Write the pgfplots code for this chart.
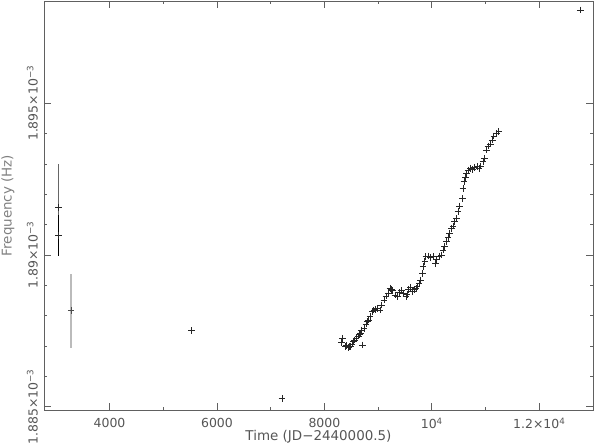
\documentclass[border=0pt]{standalone}
\usepackage{fontspec}
\setmainfont{DejaVu Sans}
\usepackage{pgfplots}
\pgfplotsset{compat=1.18}

\definecolor{axisgray}{HTML}{606060}
\definecolor{textgray}{HTML}{555555}
\definecolor{labelgray}{HTML}{808080}
\definecolor{barlight}{HTML}{BBBBBB}

% early measurements: time, frequency (Hz), error
\pgfplotstableread{
x y e
3049 1.891572e-3 1.417e-6
}\earlyA
\pgfplotstableread{
x y e
3049 1.890636e-3 0.675e-6
}\earlyB
\pgfplotstableread{
x y e
3284 1.888165e-3 1.219e-6
}\earlyC

\pgfplotstableread{
x y
5523 1.887506e-3
7211 1.885265e-3
8342 1.887254e-3
8323 1.887112e-3
8385 1.886980e-3
8410 1.887010e-3
8447 1.886947e-3
8470 1.886990e-3
8490 1.886980e-3
8515 1.887060e-3
8540 1.887145e-3
8565 1.887200e-3
8589 1.887254e-3
8633 1.887331e-3
8655 1.887370e-3
8676 1.887419e-3
8707 1.887035e-3
8694 1.887529e-3
8738 1.887584e-3
8775 1.887726e-3
8800 1.887800e-3
8818 1.887858e-3
8849 1.887968e-3
8898 1.888133e-3
8920 1.888180e-3
8942 1.888210e-3
8985 1.888243e-3
9034 1.888188e-3
9065 1.888353e-3
9109 1.888518e-3
9146 1.888649e-3
9189 1.888737e-3
9220 1.888902e-3
9245 1.888860e-3
9269 1.888825e-3
9313 1.888682e-3
9356 1.888627e-3
9393 1.888759e-3
9436 1.888825e-3
9467 1.888737e-3
9517 1.888627e-3
9540 1.888700e-3
9560 1.888869e-3
9603 1.888935e-3
9640 1.888792e-3
9684 1.888869e-3
9705 1.888900e-3
9727 1.888957e-3
9764 1.889067e-3
9789 1.889176e-3
9826 1.889396e-3
9838 1.889616e-3
9869 1.889780e-3
9888 1.889945e-3
9931 1.889967e-3
9974 1.889923e-3
10024 1.889945e-3
10073 1.889725e-3
10086 1.889857e-3
10135 1.889967e-3
10178 1.890000e-3
10209 1.890165e-3
10240 1.890275e-3
10271 1.890440e-3
10302 1.890582e-3
10333 1.890714e-3
10364 1.890879e-3
10395 1.890956e-3
10426 1.891098e-3
10457 1.891208e-3
10487 1.891428e-3
10518 1.891615e-3
10568 1.891867e-3
10580 1.892197e-3
10599 1.892417e-3
10624 1.892559e-3
10642 1.892691e-3
10673 1.892801e-3
10716 1.892856e-3
10753 1.892823e-3
10797 1.892889e-3
10840 1.892911e-3
10877 1.892856e-3
10908 1.892933e-3
10951 1.893076e-3
10982 1.893185e-3
11013 1.893460e-3
11044 1.893592e-3
11087 1.893658e-3
11124 1.893789e-3
11155 1.893921e-3
11199 1.894009e-3
11248 1.894064e-3
12763 1.898073e-3
}\timing

\begin{document}
\begin{tikzpicture}
\begin{axis}[
    at={(0,0)}, anchor=south west,
    scale only axis,
    width=549bp, height=409bp,
    xmin=2780, xmax=13000,
    ymin=1.88489e-3, ymax=1.89837e-3,
    axis line style={axisgray, line width=0.8pt},
    every tick/.style={axisgray, line width=0.8pt},
    tick align=inside,
    major tick length=7bp,
    minor tick length=3.5bp,
    xtick={4000,6000,8000,10000,12000},
    xticklabels={4000,6000,8000,10\textsuperscript{4},1.2×10\textsuperscript{4}},
    minor x tick num=1,
    scaled x ticks=false,
    ytick={1.885e-3,1.89e-3,1.895e-3},
    yticklabels={1.885×10\textsuperscript{−3},1.89×10\textsuperscript{−3},1.895×10\textsuperscript{−3}},
    minor y tick num=4,
    scaled y ticks=false,
    ticklabel style={font=\fontsize{12.5}{14}\selectfont, text=textgray},
    xticklabel style={anchor=north, inner sep=0pt},
    xticklabel shift=8bp,
    yticklabel style={rotate=90, anchor=south, inner sep=0pt},
    yticklabel shift=6bp,
    xlabel={Time (JD−2440000.5)},
    ylabel={Frequency (Hz)},
    label style={font=\fontsize{13.5}{15}\selectfont},
    xlabel style={text=textgray, at={(axis description cs:0.5,-0.066)}, anchor=center},
    ylabel style={text=labelgray, at={(axis description cs:-0.0656,0.5)}, anchor=center},
    clip=false,
]
\addplot[only marks, mark=+, mark size=3.3bp, black!85, mark options={line width=0.8pt},
    error bars/.cd, y dir=both, y explicit,
    error bar style={gray!80!black, line width=0.8pt}, error mark=none]
    table[x=x, y=y, y error=e] {\earlyA};
\addplot[only marks, mark=+, mark size=3.3bp, black!85, mark options={line width=0.8pt},
    error bars/.cd, y dir=both, y explicit,
    error bar style={black, line width=0.8pt}, error mark=none]
    table[x=x, y=y, y error=e] {\earlyB};
\addplot[only marks, mark=+, mark size=3.3bp, black!70, mark options={line width=0.8pt},
    error bars/.cd, y dir=both, y explicit,
    error bar style={barlight, line width=1.2pt}, error mark=none]
    table[x=x, y=y, y error=e] {\earlyC};
\addplot[only marks, mark=+, mark size=3.3bp, black!85, mark options={line width=0.8pt}]
    table[x=x, y=y] {\timing};
\end{axis}
\pgfresetboundingbox
\path (-44bp,-34bp) rectangle (551bp,410bp);
\end{tikzpicture}
\end{document}
